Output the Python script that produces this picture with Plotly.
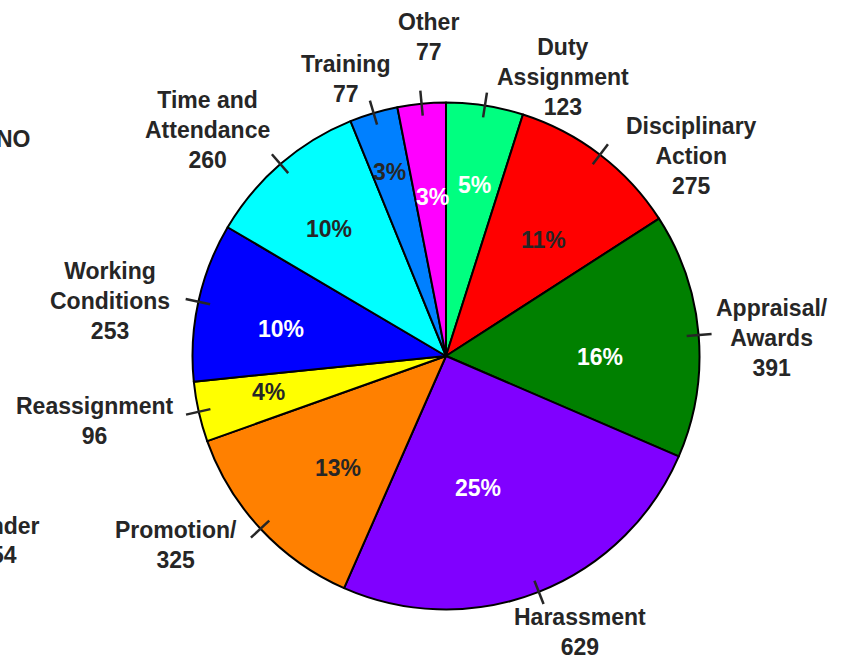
import math
import plotly.graph_objects as go

# ---- data ----
categories = ["Duty Assignment", "Disciplinary Action", "Appraisal/Awards", "Harassment",
              "Promotion/", "Reassignment", "Working Conditions", "Time and Attendance",
              "Training", "Other"]
label_text = ["Duty<br>Assignment", "Disciplinary<br>Action", "Appraisal/<br>Awards", "Harassment",
              "Promotion/", "Reassignment", "Working<br>Conditions", "Time and<br>Attendance",
              "Training", "Other"]
values = [123, 275, 391, 629, 325, 96, 253, 260, 77, 77]
colors = ["#00FF80", "#FF0000", "#008000", "#8000FF", "#FF8000",
          "#FFFF00", "#0000FF", "#00FFFF", "#0080FF", "#FF00FF"]
pct_colors = ["white", "#262626", "white", "white", "#262626",
              "#262626", "white", "#262626", "#262626", "white"]

# ---- layout / style ----
W, H = 848, 658
CX, CY, R = 446.0, 356.0, 253.5
FONT = "Liberation Sans, Arial, Helvetica, sans-serif"
TXT = "#262626"
FS = 23

# pixel offsets (label centre relative to leader end / percent relative to 0.65R)
label_off = [(76, -16), (84, 12), (60, 4), (36, 28), (-75, 7),
             (-91, 6), (-76, 2), (-64, -24), (-24, -22), (8, -54)]
pct_off = [(3, -8), (-3, 15), (-10, 15), (-28, -21), (13, 0),
           (-17, 0), (-4, 8), (-9, -2), (-9, -26), (2, 5)]


def px(x):
    return x / W


def py(y):
    return 1 - y / H


total = sum(values)
fig = go.Figure()
fig.add_trace(go.Pie(
    labels=categories, values=values, sort=False, direction="clockwise", rotation=0,
    marker=dict(colors=colors, line=dict(color="black", width=2)),
    textinfo="none", hoverinfo="none", showlegend=False,
    domain=dict(x=[px(CX - R), px(CX + R)], y=[py(CY + R), py(CY - R)]),
))

annotations = []
shapes = []
cum = 0
for i, v in enumerate(values):
    mid = (cum + v / 2) / total * 2 * math.pi
    cum += v
    s, c = math.sin(mid), math.cos(mid)
    # leader tick
    x0, y0 = CX + (R - 12) * s, CY - (R - 12) * c
    x1, y1 = CX + (R + 13) * s, CY - (R + 13) * c
    shapes.append(dict(type="line", xref="paper", yref="paper",
                       x0=px(x0), y0=py(y0), x1=px(x1), y1=py(y1),
                       line=dict(color=TXT, width=2.5)))
    # outside label
    lx, ly = x1 + label_off[i][0], y1 + label_off[i][1]
    annotations.append(dict(
        x=px(lx), y=py(ly), xref="paper", yref="paper", xanchor="center", yanchor="middle",
        text=f"{label_text[i]}<br>{v}", showarrow=False, align="center",
        font=dict(family=FONT, size=FS, color=TXT, weight="bold")))
    # percent label
    pr = 0.65 * R
    tx, ty = CX + pr * s + pct_off[i][0], CY - pr * c + pct_off[i][1]
    annotations.append(dict(
        x=px(tx), y=py(ty), xref="paper", yref="paper", xanchor="center", yanchor="middle",
        text=f"{round(v / total * 100)}%", showarrow=False,
        font=dict(family=FONT, size=FS, color=pct_colors[i], weight="bold")))

# labels of a neighbouring chart, cut off at the left edge (as in the reference)
annotations.append(dict(x=px(33), y=py(138.5), xref="paper", yref="paper", xanchor="right",
                        yanchor="middle", text="NO", showarrow=False,
                        font=dict(family=FONT, size=FS, color=TXT, weight="bold")))
annotations.append(dict(x=px(42), y=py(526), xref="paper", yref="paper", xanchor="right",
                        yanchor="middle", text="Gender", showarrow=False,
                        font=dict(family=FONT, size=FS, color=TXT, weight="bold")))
annotations.append(dict(x=px(19), y=py(555), xref="paper", yref="paper", xanchor="right",
                        yanchor="middle", text="54", showarrow=False,
                        font=dict(family=FONT, size=FS, color=TXT, weight="bold")))

fig.update_layout(
    width=W, height=H, autosize=False,
    margin=dict(l=0, r=0, t=0, b=0, pad=0),
    paper_bgcolor="white", plot_bgcolor="white",
    annotations=annotations, shapes=shapes,
)

fig.write_html("out.html", config={"displayModeBar": False},
               post_script="document.body.style.margin='0';")
